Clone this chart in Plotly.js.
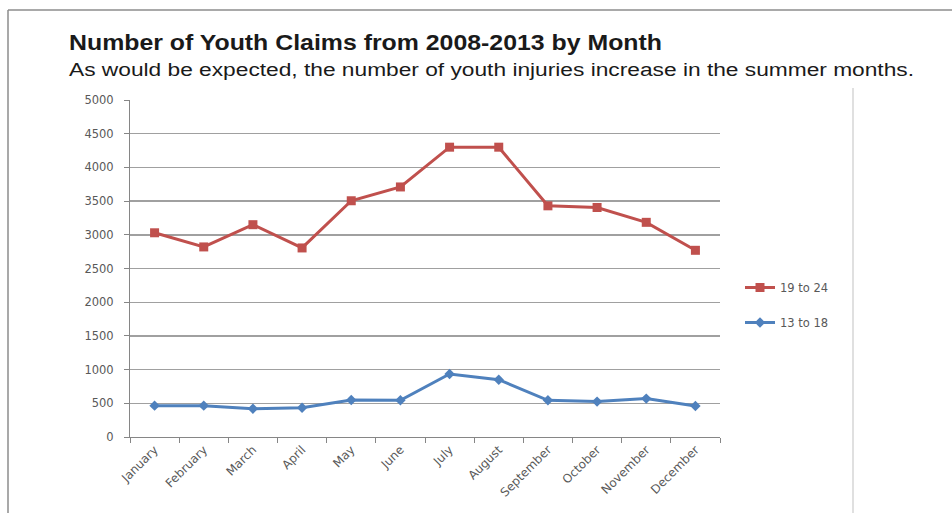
<!DOCTYPE html>
<html>
<head>
<meta charset="utf-8">
<script src="https://cdn.plot.ly/plotly-3.0.1.min.js"></script>
<style>html,body{margin:0;padding:0;background:#fff;}#chart{width:952px;height:513px;}</style>
</head>
<body>
<div id="chart"></div>
<script>
const months = ["January","February","March","April","May","June","July","August","September","October","November","December"];
const age19to24 = [3030, 2820, 3150, 2805, 3505, 3710, 4300, 4300, 3430, 3405, 3185, 2770];
const age13to18 = [465, 465, 420, 435, 550, 545, 935, 850, 545, 525, 570, 460];
const seriesNames = ["19 to 24", "13 to 18"];
const yTicks = [0,500,1000,1500,2000,2500,3000,3500,4000,4500,5000];
const titleText = "Number of Youth Claims from 2008-2013 by Month";
const subtitleText = "As would be expected, the number of youth injuries increase in the summer months.";

const L=130, R=720, T=100, B=437, W=952, H=513;
const px = x => (x-L)/(R-L);
const py = y => (B-y)/(B-T);
const tickFont = '"DejaVu Sans", sans-serif';

const traces = [
  {x: months, y: age19to24, name: seriesNames[0], type:'scatter', mode:'lines+markers',
   legendgroup:'a',
   line:{color:'#C0504D', width:3}, marker:{symbol:'square', size:9, color:'#C0504D'}},
  {x: months, y: age13to18, name: seriesNames[1], type:'scatter', mode:'lines+markers',
   legendgroup:'b',
   line:{color:'#4F81BD', width:3}, marker:{symbol:'diamond', size:8, color:'#4F81BD'}}
];

const layout = {
  width: W, height: H,
  margin:{l:L, r:W-R, t:T, b:H-B},
  paper_bgcolor:'#fff', plot_bgcolor:'#fff',
  font:{family:tickFont, color:'#595959'},
  showlegend:true,
  legend:{x:px(740), y:py(273), xanchor:'left', yanchor:'top', traceorder:'grouped', tracegroupgap:16,
          font:{size:11.5, color:'#595959', family:tickFont}, bgcolor:'rgba(0,0,0,0)'},
  xaxis:{type:'category', range:[-0.5, 11.5], tickson:'boundaries', ticks:'outside', ticklen:5,
         tickcolor:'#868686', showline:true, linecolor:'#868686', linewidth:1,
         showgrid:false, tickangle:-45, tickfont:{size:12, color:'#595959', family:tickFont}, zeroline:false},
  yaxis:{range:[0,5000], tickvals:yTicks, ticks:'outside', ticklen:5, tickcolor:'#868686',
         ticklabelstandoff:8,
         showline:true, linecolor:'#868686', linewidth:1, showgrid:true, gridcolor:'#A0A0A0', gridwidth:1.4,
         tickfont:{size:11.5, color:'#595959', family:tickFont}, zeroline:false},
  shapes:[
    {type:'line', xref:'paper', yref:'paper', x0:px(8), x1:px(952), y0:py(10), y1:py(10), line:{color:'#8C8C8C', width:1.5}},
    {type:'line', xref:'paper', yref:'paper', x0:px(8), x1:px(8), y0:py(10), y1:py(513), line:{color:'#8C8C8C', width:1.5}},
    {type:'line', xref:'paper', yref:'paper', x0:px(853), x1:px(853), y0:py(88), y1:py(513), line:{color:'#E0E0E0', width:2}}
  ],
  annotations:[
    {xref:'paper', yref:'paper', x:px(67), y:py(42), xanchor:'left', yanchor:'middle', showarrow:false,
     text:'<b>'+titleText+'</b>', font:{size:22, color:'#1a1a1a', family:'"Liberation Sans", Arial, sans-serif'}},
    {xref:'paper', yref:'paper', x:px(67), y:py(70), xanchor:'left', yanchor:'middle', showarrow:false,
     text:subtitleText, font:{size:18, color:'#1a1a1a', family:'"Liberation Sans", Arial, sans-serif'}}
  ]
};

Plotly.newPlot('chart', traces, layout, {displayModeBar:false, staticPlot:true}).then(gd => {
  // The reference text is horizontally wider than Arial; stretch to the measured widths,
  // keeping the left edge fixed.
  const widths = [593, 845];
  const texts = gd.querySelectorAll('.annotation-text');
  texts.forEach((t, i) => {
    if (widths[i]) {
      const bb = t.getBBox();
      t.setAttribute('text-anchor', 'start');
      t.setAttribute('x', bb.x);
      t.setAttribute('textLength', widths[i]);
      t.setAttribute('lengthAdjust', 'spacingAndGlyphs');
    }
  });
});
</script>
</body>
</html>
